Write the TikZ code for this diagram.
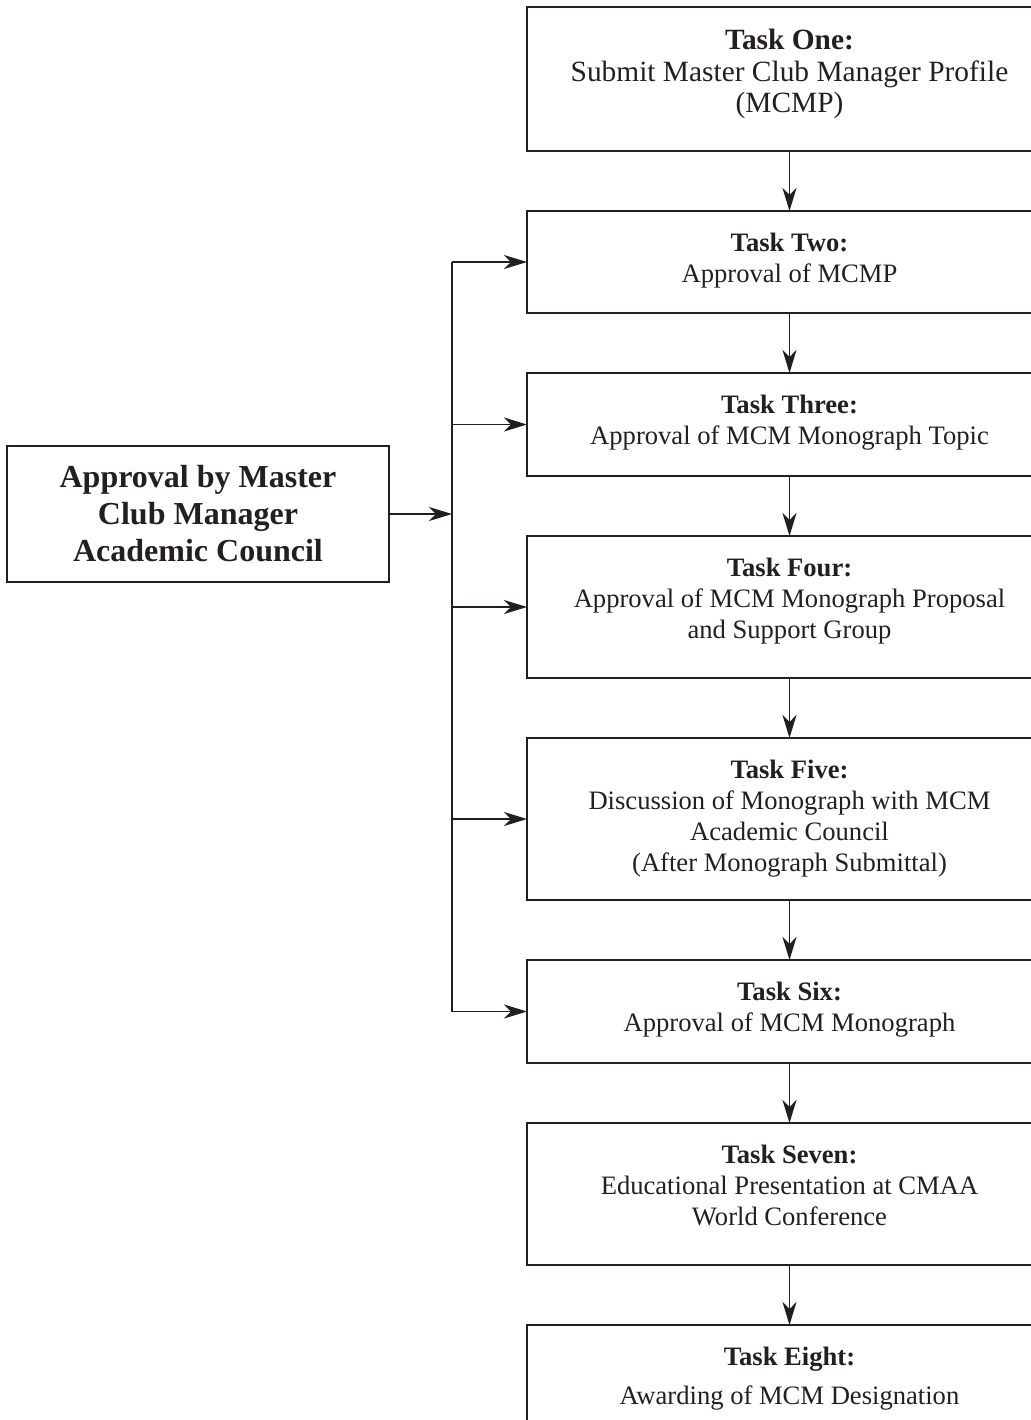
\documentclass[tikz,border=0pt]{standalone}
\usepackage{fontspec}
\setmainfont{Liberation Serif}
\usepackage{tikz}
\usetikzlibrary{arrows.meta,calc,positioning}
\definecolor{ink}{RGB}{35,31,32}
\tikzset{
	flow chart/.style={
		ink, line width=0.8pt,
		node distance=30pt and 30pt,
		ar/.style={-{Stealth[length=11.5pt,width=7pt,inset=3.5pt]}},
		},
	task/.style={draw, rectangle, outer sep=0pt, inner xsep=4pt, inner ysep=11pt,
		font=\fontsize{13.3}{15.5}\selectfont},
	council/.style={draw, rectangle, outer sep=0pt, align=center,
		minimum width=191pt, minimum height=68pt,
		font=\fontsize{16}{18.5}\selectfont\bfseries},
}
\newcommand{\taskbody}[4][0pt]{\parbox[c][#2][t]{254.5pt}{\centering\textbf{#3}\\[#1]#4}}

\begin{document}
\begin{tikzpicture}[flow chart, x=1pt, y=1pt]
	\useasboundingbox (0,0) rectangle (515,-710);
	\node[task, anchor=north west, font=\fontsize{14.7}{15.8}\selectfont] (T1) at (263.5,-3.5)
		{\taskbody{50pt}{Task One:}{Submit Master Club Manager Profile\\(MCMP)}};
	\node[task, below=of T1] (T2) {\taskbody{29pt}{Task Two:}{Approval of MCMP}};
	\node[task, below=of T2] (T3) {\taskbody{29.5pt}{Task Three:}{Approval of MCM Monograph Topic}};
	\node[task, below=of T3] (T4) {\taskbody{49pt}{Task Four:}{Approval of MCM Monograph Proposal\\and Support Group}};
	\node[task, below=of T4] (T5) {\taskbody{59pt}{Task Five:}{Discussion of Monograph with MCM\\Academic Council\\(After Monograph Submittal)}};
	\node[task, below=of T5] (T6) {\taskbody{29.5pt}{Task Six:}{Approval of MCM Monograph}};
	\node[task, below=of T6] (T7) {\taskbody{49pt}{Task Seven:}{Educational Presentation at CMAA\\World Conference}};
	\node[task, below=of T7] (T8) {\taskbody[4pt]{29pt}{Task Eight:}{Awarding of MCM Designation}};
	\node[council, anchor=north west] (AC) at (3.5,-223) {Approval by Master\\Club Manager\\Academic Council};
	\coordinate (bus) at (226,0);
	\draw (T2.west -| bus) -- (T6.west -| bus);
	\draw[ar] (AC.east) -- (AC.east -| bus);
	\foreach \i in {2,...,6}
		\draw[ar] (T\i.west -| bus) -- (T\i.west);
	\foreach \i [evaluate=\i as \j using int(\i+1)] in {1,...,7}
		\draw[ar] (T\i) -- (T\j);
\end{tikzpicture}
\end{document}
